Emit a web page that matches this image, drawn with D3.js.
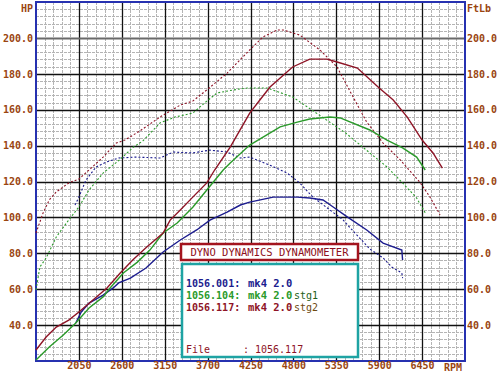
<!DOCTYPE html>
<html>
<head>
<meta charset="utf-8">
<script src="https://cdn.jsdelivr.net/npm/d3@7"></script>
<style>
  body { margin: 0; background: #fff; }
  svg { display: block; font-family: "DejaVu Sans Mono", "Liberation Mono", monospace; font-weight: bold; }
  .tick line { display: none; }
  .domain { display: none; }
</style>
</head>
<body>
<div id="dyno"></div>
<script>
// RPM tick labels and power / torque tick labels
var rpmTicks = [2050, 2600, 3150, 3700, 4250, 4800, 5350, 5900, 6450];
var powerTicks = [40, 60, 80, 100, 120, 140, 160, 180, 200];

// run 1056.001 (mk4 2.0) - [rpm, value]
var run001Hp = [[2010,41.2],[2080,47.3],[2180,52.3],[2360,56.7],[2490,60.7],[2560,63.5],[2710,66.2],[2910,71.8],
  [3130,80.7],[3350,87.4],[3560,93.0],[3730,98.5],[3950,103.0],[4120,106.9],[4240,108.5],[4540,111.3],
  [4850,111.3],[5010,110.8],[5180,109.7],[5310,105.8],[5490,100.3],[5740,93.0],[5950,85.7],[6190,81.8],[6200,76.3]];
var run001Tq = [[2000,106.9],[2050,111.3],[2140,120.8],[2270,128.1],[2400,130.8],[2560,133.1],[2780,133.6],[3090,133.1],
  [3260,136.4],[3510,135.9],[3730,137.5],[3950,136.4],[4120,133.1],[4240,133.6],[4500,129.1],[4720,124.7],
  [4880,119.2],[5050,111.3],[5270,104.1],[5440,98.5],[5530,94.1],[5780,82.4],[5950,77.4],[6060,72.4],[6190,69.0],[6200,66.2]];

// run 1056.104 (mk4 2.0 stg1)
var run104Hp = [[1500,20.6],[1670,27.8],[1850,34.5],[2010,41.2],[2180,49.5],[2360,55.7],[2450,60.7],[2620,69.0],
  [2800,75.1],[2960,81.8],[3130,91.3],[3310,96.9],[3510,105.7],[3690,115.3],[3900,126.4],[3990,130.3],
  [4240,140.3],[4630,150.4],[4850,153.1],[5010,154.8],[5270,155.9],[5400,155.4],[5780,148.7],[6000,143.1],
  [6200,138.7],[6380,133.6],[6490,126.4]];
var run104Tq = [[1500,59.6],[1550,72.4],[1630,77.4],[1760,89.1],[1920,98.6],[2050,105.8],[2180,115.3],[2360,124.7],
  [2570,132.0],[2750,139.2],[2870,142.6],[3090,152.6],[3280,155.9],[3510,158.1],[3690,164.8],[3820,169.3],
  [4030,171.0],[4210,172.1],[4460,172.1],[4790,167.1],[5170,155.9],[5470,147.0],[5780,135.9],[6000,128.1],
  [6200,119.2],[6380,110.8],[6490,102.5]];

// run 1056.117 (mk4 2.0 stg2)
var run117Hp = [[1500,26.1],[1630,33.4],[1760,38.9],[1920,42.8],[2050,47.3],[2230,54.0],[2410,60.7],[2580,69.0],
  [2740,76.3],[2920,83.5],[3130,91.3],[3220,98.5],[3350,104.1],[3510,111.3],[3690,119.2],[3790,126.4],
  [3990,139.2],[4240,158.1],[4370,165.4],[4500,172.6],[4790,183.8],[5010,188.2],[5230,188.2],[5360,186.6],
  [5620,183.2],[5900,172.1],[6080,165.4],[6260,155.9],[6450,143.1],[6590,135.9],[6710,127.5]];
var run117Tq = [[1500,91.3],[1590,102.4],[1670,109.7],[1760,114.2],[1920,119.2],[2050,121.4],[2180,126.4],[2360,133.6],
  [2530,141.4],[2640,143.1],[2830,148.1],[3090,155.9],[3350,162.6],[3510,164.8],[3690,171.0],[3950,180.4],
  [4240,193.3],[4410,200.5],[4590,204.4],[4670,204.4],[4880,201.6],[5140,193.3],[5360,183.8],[5530,169.9],
  [5740,153.1],[5950,141.4],[6170,132.0],[6420,119.7],[6550,111.4],[6680,101.4]];

// legend rows
var legendIds = ["1056.001:", "1056.104:", "1056.117:"];
var legendNames = ["mk4 2.0", "mk4 2.0", "mk4 2.0"];
var legendTags = ["", "stg1", "stg2"];

function init() {

    var width = 500;
    var height = 375;

    var colors = ["#1c1c8e", "#2a9a2a", "#8e1426"];
    var tagColors = ["#1c1c8e", "#1f5f1a", "#6e4a12"];
    var labelColor = "#9a4510";

    var x = d3.scaleLinear().domain([1500, 7000]).range([36, 465]);
    var y = d3.scaleLinear().domain([20, 220]).range([361, 2]);

    var svg = d3.select("#dyno")
        .append("svg")
        .attr("width", width)
        .attr("height", height);

    // minor grid
    var grid = svg.append("g");
    grid.selectAll(".vminor")
        .data(d3.range(1500, 7000, 110).filter(function (d) { return (d - 1500) % 550 != 0; }))
        .enter().append("line")
        .attr("x1", function (d) { return Math.round(x(d)) + 0.5; })
        .attr("x2", function (d) { return Math.round(x(d)) + 0.5; })
        .attr("y1", y(220)).attr("y2", y(20))
        .attr("stroke", "#b4b4b4")
        .attr("stroke-dasharray", "3,1");
    grid.selectAll(".hminor")
        .data(d3.range(20, 220, 4).filter(function (d) { return d % 20 != 0; }))
        .enter().append("line")
        .attr("y1", function (d) { return Math.round(y(d)) + 0.5; })
        .attr("y2", function (d) { return Math.round(y(d)) + 0.5; })
        .attr("x1", x(1500)).attr("x2", x(7000))
        .attr("stroke", "#b4b4b4")
        .attr("stroke-dasharray", "3,1");

    // major grid
    grid.selectAll(".vmajor")
        .data(rpmTicks)
        .enter().append("line")
        .attr("x1", function (d) { return Math.round(x(d)) + 0.5; })
        .attr("x2", function (d) { return Math.round(x(d)) + 0.5; })
        .attr("y1", y(220)).attr("y2", y(20))
        .attr("stroke", "#111")
        .attr("stroke-width", 1.3);
    grid.selectAll(".hmajor")
        .data(powerTicks)
        .enter().append("line")
        .attr("y1", function (d) { return Math.round(y(d)) + 0.5; })
        .attr("y2", function (d) { return Math.round(y(d)) + 0.5; })
        .attr("x1", x(1500)).attr("x2", x(7000))
        .attr("stroke", function (d) { return d == 200 ? "#6a6a6a" : "#111"; })
        .attr("stroke-width", function (d) { return d == 200 ? 2 : 1.3; });

    // plot border
    svg.append("rect")
        .attr("x", x(1500)).attr("y", y(220))
        .attr("width", x(7000) - x(1500))
        .attr("height", y(20) - y(220))
        .attr("fill", "none")
        .attr("stroke", "#2631b0")
        .attr("stroke-width", 2);

    // axes
    var fmt = d3.format(".1f");
    var left = svg.append("g")
        .attr("transform", "translate(" + (x(1500) - 3) + ",0)")
        .call(d3.axisLeft(y).tickValues(powerTicks).tickFormat(fmt).tickSize(0).tickPadding(0));
    var right = svg.append("g")
        .attr("transform", "translate(" + (x(7000) + 2) + ",0)")
        .call(d3.axisRight(y).tickValues(powerTicks).tickFormat(fmt).tickSize(0).tickPadding(0));
    var bottom = svg.append("g")
        .attr("transform", "translate(0," + (y(20) + 1) + ")")
        .call(d3.axisBottom(x).tickValues(rpmTicks).tickFormat(d3.format("d")).tickSize(0).tickPadding(0));
    [left, right, bottom].forEach(function (g) {
        g.selectAll("text")
            .attr("fill", labelColor)
            .style("font-family", "'DejaVu Sans Mono', monospace")
            .style("font-weight", "bold")
            .style("font-size", "10px");
    });

    svg.append("text").attr("x", 33).attr("y", 12).attr("text-anchor", "end")
        .attr("fill", labelColor).style("font-size", "10px").text("HP");
    svg.append("text").attr("x", 467).attr("y", 12)
        .attr("fill", labelColor).style("font-size", "10px").text("FtLb");
    svg.append("text").attr("x", 444).attr("y", 371)
        .attr("fill", labelColor).style("font-size", "10px").text("RPM");

    // curves
    var line = d3.line()
        .x(function (d) { return x(d[0]); })
        .y(function (d) { return y(d[1]); });

    var curves = [
        { data: run001Tq, c: 0, dash: true },
        { data: run104Tq, c: 1, dash: true },
        { data: run117Tq, c: 2, dash: true },
        { data: run001Hp, c: 0, dash: false },
        { data: run104Hp, c: 1, dash: false },
        { data: run117Hp, c: 2, dash: false }
    ];
    svg.selectAll(".curve")
        .data(curves)
        .enter().append("path")
        .attr("class", "curve")
        .attr("d", function (d) { return line(d.data); })
        .attr("fill", "none")
        .attr("stroke", function (d) { return colors[d.c]; })
        .attr("stroke-width", function (d) { return d.dash ? 1.1 : 1.4; })
        .attr("stroke-dasharray", function (d) { return d.dash ? "2,2" : null; });

    // legend
    var lg = svg.append("g").style("font-size", "10px");
    lg.append("rect")
        .attr("x", 181).attr("y", 244).attr("width", 177).attr("height", 16)
        .attr("fill", "#fff").attr("stroke", "#a3141e").attr("stroke-width", 2.5);
    lg.append("text")
        .attr("x", 269.5).attr("y", 256).attr("text-anchor", "middle")
        .attr("fill", "#8e1020").style("font-weight", "normal").style("font-size", "10.5px")
        .text("DYNO DYNAMICS DYNAMOMETER");
    lg.append("rect")
        .attr("x", 182).attr("y", 264).attr("width", 176).attr("height", 93)
        .attr("fill", "#fff").attr("stroke", "#1ea3a3").attr("stroke-width", 2.5);

    var rowY = [287, 299, 311];
    legendIds.forEach(function (id, i) {
        lg.append("text").attr("x", 186).attr("y", rowY[i])
            .attr("fill", colors[i]).text(id);
        lg.append("text").attr("x", 248).attr("y", rowY[i])
            .attr("fill", colors[i]).style("font-size", "10.5px").text(legendNames[i]);
        lg.append("text").attr("x", 294).attr("y", rowY[i])
            .attr("fill", tagColors[i]).style("font-weight", "normal").text(legendTags[i]);
    });
    lg.append("text").attr("x", 186).attr("y", 353)
        .attr("fill", "#8e1426").style("font-weight", "normal").text("File");
    lg.append("text").attr("x", 243).attr("y", 353)
        .attr("fill", "#8e1426").style("font-weight", "normal").text(":");
    lg.append("text").attr("x", 255).attr("y", 353)
        .attr("fill", "#8e1426").style("font-weight", "normal").text("1056.117");
}

window.onload = init;
</script>
</body>
</html>
